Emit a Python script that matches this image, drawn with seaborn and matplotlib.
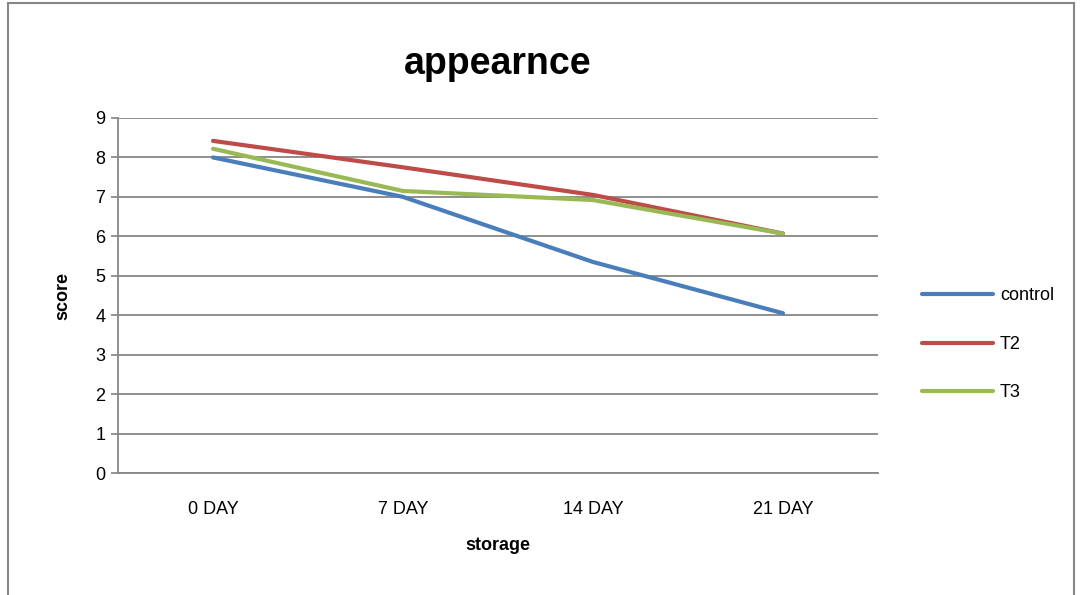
import matplotlib
matplotlib.use('Agg')
import matplotlib.pyplot as plt
import matplotlib.patches as patches
import seaborn as sns
import pandas as pd

# data
days = ['0 DAY', '7 DAY', '14 DAY', '21 DAY']
control = [8.0, 7.0, 5.35, 4.05]
t2 = [8.42, 7.75, 7.05, 6.07]
t3 = [8.22, 7.15, 6.92, 6.07]

series = {'control': control, 'T2': t2, 'T3': t3}
df = pd.DataFrame([
    {'storage': d, 'score': v, 'group': name}
    for name, vals in series.items()
    for d, v in zip(days, vals)
])

sns.set_theme(style='white')
plt.rcParams['font.family'] = ['Liberation Sans', 'DejaVu Sans']
plt.rcParams['text.color'] = 'black'
plt.rcParams['axes.labelcolor'] = 'black'
plt.rcParams['xtick.color'] = 'black'
plt.rcParams['ytick.color'] = 'black'

fig = plt.figure(figsize=(10.81, 5.95), dpi=100)
ax = fig.add_axes([118 / 1081, 1 - 473 / 595, 760 / 1081, 355 / 595])

palette = {'control': '#4A7EBB', 'T2': '#BE4B48', 'T3': '#98B954'}
sns.lineplot(data=df, x='storage', y='score', hue='group', palette=palette,
             linewidth=3, sort=False, ax=ax, legend=True)

ax.set_xlim(-0.5, 3.5)
ax.set_ylim(0, 9)
ax.set_yticks(range(0, 10))
ax.yaxis.grid(True, color='#868686', linewidth=1.3)
ax.set_axisbelow(True)
for s in ['top', 'right']:
    ax.spines[s].set_visible(False)
for s in ['left', 'bottom']:
    ax.spines[s].set_color('#868686')
    ax.spines[s].set_linewidth(1.3)
ax.tick_params(axis='y', length=5, color='#868686', labelsize=13, pad=4, left=True)
ax.tick_params(axis='x', length=0, labelsize=13, pad=20)

ax.set_xlabel('storage', fontsize=13, fontweight='bold', labelpad=14)
ax.set_ylabel('score', fontsize=13, fontweight='bold', labelpad=17)
ax.set_title('appearnce', fontsize=27, fontweight='bold', pad=32)

handles, labels = ax.get_legend_handles_labels()
ax.legend_.remove()
fig.legend(handles, labels, loc='upper left', bbox_to_anchor=(915 / 1081, 1 - 280 / 595),
           frameon=False, fontsize=13, handlelength=3.9, labelspacing=1.75,
           handletextpad=0.4, borderaxespad=0)

# outer chart border
fig.patches.append(patches.Rectangle((8 / 1081, -0.01), 1066 / 1081, 1 - 3 / 595 + 0.01,
                                     transform=fig.transFigure, fill=False,
                                     edgecolor='#868686', linewidth=1.5))

fig.savefig('out.png', dpi=100)
